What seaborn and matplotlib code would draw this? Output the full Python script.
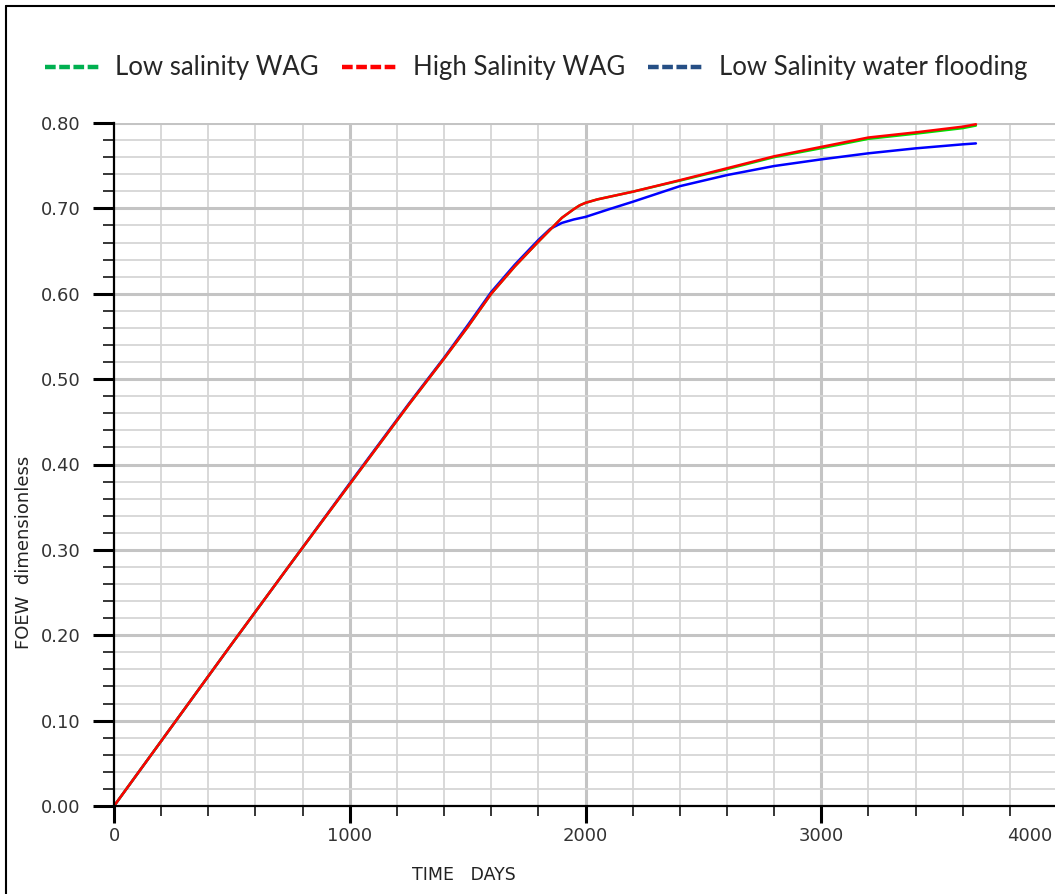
import numpy as np
import pandas as pd
import seaborn as sns
import matplotlib
matplotlib.use("Agg")
import matplotlib.pyplot as plt
from matplotlib.lines import Line2D
from matplotlib.ticker import MultipleLocator, FixedLocator
import matplotlib.transforms as mtransforms

# Field oil efficiency (FOEW) versus time for three injection schemes
days = [0, 250, 500, 750, 1000, 1250, 1400, 1500, 1600, 1700, 1800, 1850,
        1900, 1950, 1975, 2000, 2050, 2100, 2200, 2400, 2600, 2800, 3000,
        3200, 3400, 3600, 3656]
high_sal_wag = [0.000, 0.095, 0.190, 0.284, 0.377, 0.470, 0.524, 0.561,
                0.600, 0.632, 0.661, 0.675, 0.689, 0.699, 0.7035, 0.7065,
                0.7105, 0.7135, 0.7195, 0.733, 0.747, 0.761, 0.772, 0.783,
                0.789, 0.7957, 0.7985]
low_sal_wag = [0.000, 0.095, 0.190, 0.284, 0.377, 0.470, 0.524, 0.561,
               0.600, 0.632, 0.661, 0.675, 0.689, 0.699, 0.7035, 0.7065,
               0.7105, 0.7135, 0.7195, 0.7325, 0.746, 0.760, 0.7705, 0.7815,
               0.7875, 0.794, 0.797]
low_sal_wf = [0.000, 0.095, 0.190, 0.284, 0.378, 0.471, 0.525, 0.563,
              0.602, 0.634, 0.663, 0.676, 0.683, 0.687, 0.6885, 0.690,
              0.6945, 0.699, 0.7077, 0.726, 0.739, 0.7496, 0.7574, 0.7645,
              0.7703, 0.775, 0.7761]

series_names = ["Low salinity WAG", "High Salinity WAG", "Low Salinity water flooding"]
legend_colors = ["#00B050", "#FF0000", "#264F85"]
line_colors = {"Low Salinity water flooding": "#0000FF",
               "Low salinity WAG": "#00E000",
               "High Salinity WAG": "#FF0000"}

df = pd.concat([
    pd.DataFrame({"days": days, "foew": low_sal_wf, "case": "Low Salinity water flooding"}),
    pd.DataFrame({"days": days, "foew": low_sal_wag, "case": "Low salinity WAG"}),
    pd.DataFrame({"days": days, "foew": high_sal_wag, "case": "High Salinity WAG"}),
])

x_major = [0, 1000, 2000, 3000, 4000]
y_major = [0.0, 0.1, 0.2, 0.3, 0.4, 0.5, 0.6, 0.7, 0.8]
y_labels = ["0.00", "0.10", "0.20", "0.30", "0.40", "0.50", "0.60", "0.70", "0.80"]

sns.set_theme(style="white")
plt.rcParams["font.family"] = ["DejaVu Sans"]

W, H = 1055, 894
fig = plt.figure(figsize=(W / 100, H / 100), dpi=100)
ax = fig.add_axes([114 / W, 1 - 806 / H, 943 / W, (806 - 123) / H])

# grid: light minor lines, heavier major lines
for xv in np.arange(200, 4001, 200):
    major = xv % 1000 == 0
    ax.axvline(xv, color="#c4c4c4" if major else "#d6d6d6",
               lw=2.2 if major else 1.3, zorder=0)
for yv in np.arange(0.02, 0.801, 0.02):
    major = abs(yv * 10 - round(yv * 10)) < 1e-6
    ax.axhline(yv, color="#c4c4c4" if major else "#d6d6d6",
               lw=2.2 if major else 1.3, zorder=0)

for name in ["Low Salinity water flooding", "Low salinity WAG", "High Salinity WAG"]:
    sub = df[df["case"] == name]
    sns.lineplot(data=sub, x="days", y="foew", ax=ax, color=line_colors[name],
                 linewidth=1.8, estimator=None, sort=False, legend=False, zorder=3)

ax.set_xlim(0, 4000)
ax.set_ylim(0, 0.80)

for side in ["top", "right"]:
    ax.spines[side].set_visible(False)
for side in ["left", "bottom"]:
    ax.spines[side].set_color("black")
    ax.spines[side].set_linewidth(1.6)
    ax.spines[side].set_zorder(4)

ax.xaxis.set_major_locator(FixedLocator(x_major))
ax.xaxis.set_minor_locator(MultipleLocator(200))
ax.yaxis.set_major_locator(FixedLocator(y_major))
ax.yaxis.set_minor_locator(MultipleLocator(0.02))
ax.set_yticklabels(y_labels)
ax.set_xticklabels([str(v) for v in x_major])

ax.tick_params(axis="y", which="major", direction="out", length=15, width=2.2,
               color="black", pad=9, labelsize=13, labelcolor="#333333", left=True)
ax.tick_params(axis="y", which="minor", direction="out", length=8, width=1.1,
               color="black", left=True)
ax.tick_params(axis="x", which="major", direction="out", length=12, width=2.2,
               color="black", pad=3, labelsize=13, labelcolor="#333333", bottom=True)
ax.tick_params(axis="x", which="minor", direction="out", length=7, width=1.1,
               color="black", bottom=True)

# keep the last x label inside the figure
last = ax.get_xticklabels()[-1]
last.set_horizontalalignment("right")
last.set_transform(last.get_transform() +
                   mtransforms.ScaledTranslation(-5 / 100, 0, fig.dpi_scale_trans))

ax.set_xlabel("TIME   DAYS", fontsize=12.5, color="#222222")
ax.set_ylabel("FOEW  dimensionless", fontsize=13, color="#222222")
ax.xaxis.set_label_coords((464 - 114) / 943, (806 - 866) / 683)
ax.yaxis.set_label_coords((33 - 114) / 943, (806 - 552) / 683)

handles = [Line2D([], [], color=c, lw=3.2, linestyle=(0, (2.4, 0.8)))
           for c in legend_colors]
fig.legend(handles, series_names, loc="center", bbox_to_anchor=(0.508, 1 - 68 / H),
           ncol=3, frameon=False, prop={"family": "Lato", "size": 18.5},
           handlelength=2.15, handletextpad=0.6, columnspacing=0.9)

# outer border
fig.add_artist(Line2D([6 / W, 6 / W], [0, 1 - 6 / H], color="black", lw=1.5,
                      transform=fig.transFigure))
fig.add_artist(Line2D([6 / W, 1], [1 - 6 / H, 1 - 6 / H], color="black", lw=1.5,
                      transform=fig.transFigure))

fig.savefig("out.png", dpi=100)
